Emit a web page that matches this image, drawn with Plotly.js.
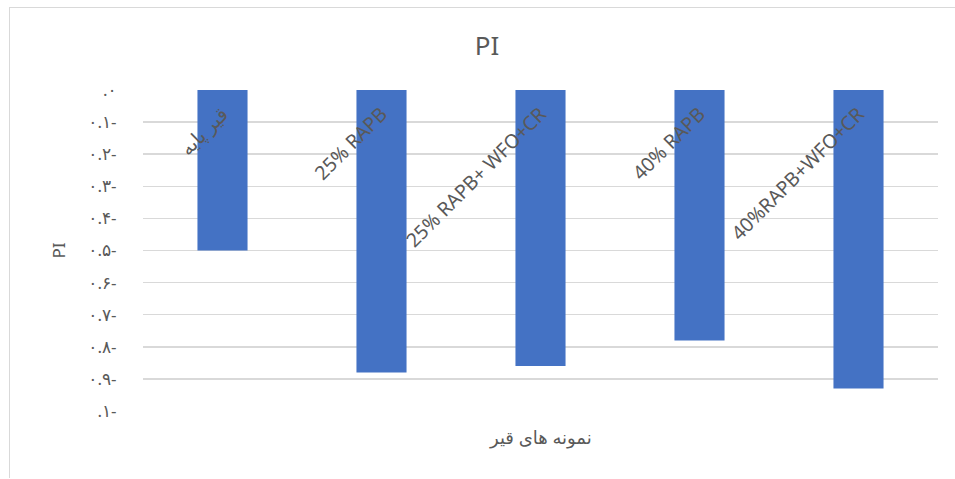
<!DOCTYPE html>
<html>
<head>
<meta charset="utf-8">
<script src="https://cdn.plot.ly/plotly-3.0.1.min.js"></script>
<style>
  html, body { margin: 0; padding: 0; background: #fff; }
  #chart { position: absolute; left: 0; top: 0; width: 955px; height: 479px; }
  #frame { position: absolute; left: 9px; top: 7px; width: 950px; height: 470px;
           border-left: 1px solid #d9d9d9; border-top: 1px solid #d9d9d9; pointer-events: none; }
</style>
</head>
<body>
<div id="chart"></div>
<div id="frame"></div>
<script>
// Data
const categories = ["قیر پایه", "25% RAPB", "25% RAPB+ WFO+CR", "40% RAPB", "40%RAPB+WFO+CR"];
const piValues = [-0.50, -0.88, -0.86, -0.78, -0.93];
const yTickVals = [0, -0.1, -0.2, -0.3, -0.4, -0.5, -0.6, -0.7, -0.8, -0.9, -1];
const yTickText = [".۰", "۰.۱-", "۰.۲-", "۰.۳-", "۰.۴-", "۰.۵-", "۰.۶-", "۰.۷-", "۰.۸-", "۰.۹-", ".۱-"];
const chartTitle = "PI";
const yTitle = "PI";
const xTitle = "نمونه های قیر";

const txt = '#595959';
const fontFam = '"Noto Sans", "DejaVu Sans", sans-serif';

const trace = {
  type: 'bar',
  x: categories,
  y: piValues,
  marker: { color: '#4472C4' },
  width: 0.315,
  hoverinfo: 'x+y'
};

const layout = {
  width: 955,
  height: 479,
  margin: { l: 143, r: 17, t: 89, b: 67 },
  paper_bgcolor: '#ffffff',
  plot_bgcolor: '#ffffff',
  showlegend: false,
  font: { family: fontFam, color: txt },
  title: {
    text: chartTitle,
    font: { size: 26, color: txt, family: fontFam },
    x: 0.51, xref: 'container', xanchor: 'center',
    y: 0.905, yref: 'container', yanchor: 'middle'
  },
  xaxis: {
    type: 'category',
    anchor: 'free',
    position: 1,
    side: 'bottom',
    showgrid: false,
    showline: false,
    zeroline: false,
    ticks: '',
    tickangle: -45,
    ticklabelstandoff: 9,
    tickfont: { size: 19.5, color: txt, family: fontFam },
    automargin: false
  },
  yaxis: {
    range: [-1.003, 0.003],
    tickvals: yTickVals,
    ticktext: yTickText,
    tickfont: { size: 17, color: txt, family: fontFam },
    ticks: 'outside',
    ticklen: 22,
    tickcolor: 'rgba(0,0,0,0)',
    showgrid: true,
    gridcolor: '#d9d9d9',
    gridwidth: 1.5,
    zeroline: false,
    showline: false,
    automargin: false,
    title: { text: yTitle, font: { size: 17, color: txt, family: fontFam }, standoff: 18 }
  },
  annotations: [{
    text: xTitle,
    xref: 'paper', yref: 'paper',
    x: 0.5, y: -0.077,
    xanchor: 'center', yanchor: 'middle',
    showarrow: false,
    font: { size: 18, color: txt, family: fontFam }
  }]
};

Plotly.newPlot('chart', [trace], layout, { displayModeBar: false, staticPlot: true });
</script>
</body>
</html>
